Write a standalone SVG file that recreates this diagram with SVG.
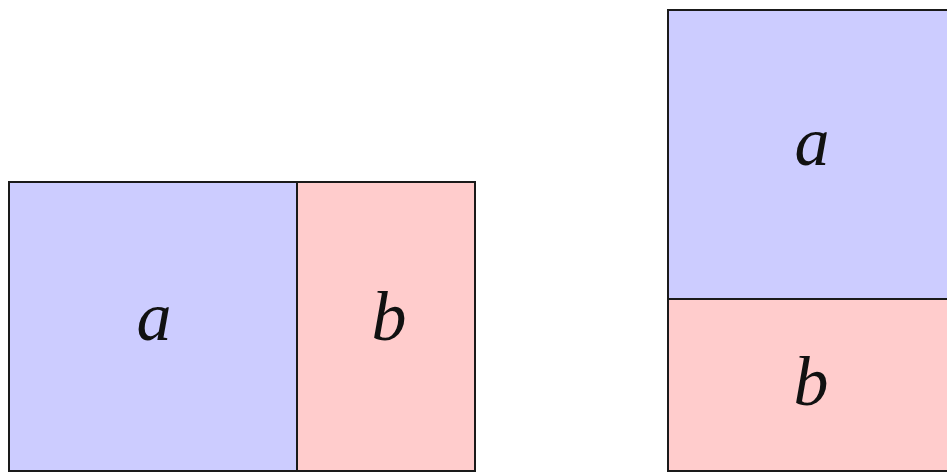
<svg xmlns="http://www.w3.org/2000/svg" width="947" height="474" viewBox="0 0 947 474">
<style>
.box{stroke:#1a1a1a;stroke-width:2}
.a{fill:#ccccff}
.b{fill:#ffcccc}
text{font-family:"Liberation Serif","Times New Roman",serif;font-style:italic;font-size:70px;fill:#111;text-anchor:middle}
</style>
<rect x="0" y="0" width="947" height="474" fill="#ffffff"/>
<g id="left">
<g id="left-a"><rect class="box a" x="9" y="182" width="288" height="289"/><text x="154" y="340">a</text></g>
<g id="left-b"><rect class="box b" x="297" y="182" width="178" height="289"/><text x="389" y="340">b</text></g>
</g>
<g id="right">
<g id="right-a"><rect class="box a" x="668" y="10" width="300" height="289"/><text x="812" y="165">a</text></g>
<g id="right-b"><rect class="box b" x="668" y="299" width="300" height="172"/><text x="811" y="405">b</text></g>
</g>
<g id="connectors"/>
</svg>
